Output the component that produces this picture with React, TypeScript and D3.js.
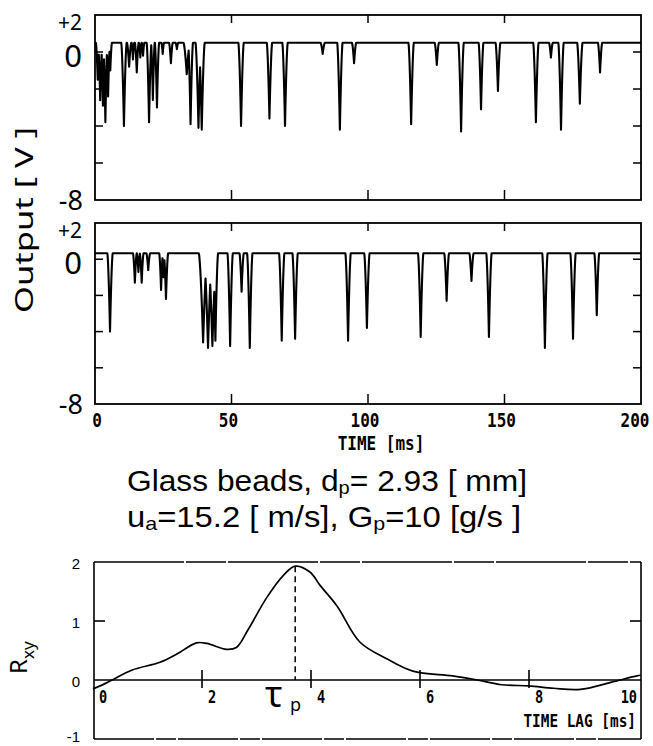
import React from 'react';
import * as d3 from 'd3';

const width = 653;
const height = 746;

// upper trace: [time ms, min value V, half width ms]
const topSpikes: number[][] = [
  [1.0, -1.5, 0.7], [1.9, -2.6, 0.8], [2.9, -2.9, 0.7], [3.8, -3.8, 0.8], [4.8, -2.4, 0.7], [5.6, -1.0, 0.6],
  [10.6, -4.0, 1.0],
  [12.5, -0.8, 0.8], [13.9, -0.4, 0.5], [15.3, -1.1, 0.7], [16.6, -0.3, 0.5], [17.6, -0.2, 0.5],
  [19.8, -3.8, 0.9], [21.2, -2.6, 0.7], [22.7, -3.0, 0.8],
  [24.8, -0.1, 0.5], [27.8, -0.6, 0.7], [30.0, 0.15, 0.5],
  [33.6, -1.2, 1.2], [35.0, -3.9, 0.9],
  [37.9, -4.1, 1.1], [39.1, -4.2, 1.1],
  [53.5, -4.0, 1.0], [63.9, -3.6, 1.0], [69.6, -4.0, 1.0], [83.4, -0.1, 0.8], [89.7, -4.2, 1.0],
  [94.9, -0.6, 0.8], [115.8, -3.9, 1.0], [125.2, -0.7, 0.8], [134.1, -4.3, 1.0], [141.4, -3.1, 0.9],
  [147.6, -2.1, 0.9], [161.5, -3.8, 1.0], [167.0, -0.3, 0.7], [170.7, -4.2, 1.0], [177.6, -2.8, 1.0],
  [185.0, -1.1, 0.8],
];
const topBase = 0.5;

// lower trace
const midSpikes: number[][] = [
  [5.5, -4.0, 1.0],
  [14.6, -1.3, 0.7], [15.9, -0.7, 0.6], [17.1, -1.3, 0.7], [19.5, -0.6, 0.7],
  [24.2, -1.7, 0.7], [25.1, -1.0, 0.6], [26.0, -2.2, 0.8],
  [39.6, -4.6, 1.6], [41.4, -4.9, 1.6], [43.0, -4.8, 1.6], [44.1, -4.5, 1.0],
  [49.5, -4.8, 1.0], [53.7, -1.8, 0.8], [56.7, -4.9, 1.0], [68.4, -4.5, 1.0], [73.3, -4.4, 1.0],
  [92.7, -4.5, 1.0], [99.6, -3.8, 1.0], [119.3, -4.3, 1.0], [128.8, -2.3, 0.9], [137.9, -1.2, 0.8],
  [144.3, -4.3, 1.0], [164.8, -4.9, 1.0], [175.1, -4.4, 1.0], [183.8, -3.1, 0.9],
];
const midBase = 0.33;

const timeTicks = [0, 50, 100, 150, 200];
const voltTicks = [0, -2, -4, -6];

// cross-correlation
const lag = [0, 0.2, 0.35, 0.72, 1.23, 1.54, 1.9, 2.09, 2.45, 2.63, 2.85, 3.19, 3.49, 3.71, 3.98, 4.17, 4.48, 4.9, 5.39, 5.87, 6.6, 7.05, 7.5, 8.0, 8.45, 8.94, 9.5, 9.98, 10.05];
const rxy = [-0.15, -0.07, 0, 0.17, 0.3, 0.44, 0.63, 0.62, 0.52, 0.55, 0.86, 1.4, 1.77, 1.93, 1.83, 1.6, 1.25, 0.64, 0.36, 0.15, 0.07, 0, -0.08, -0.1, -0.14, -0.16, -0.04, 0.07, 0.08];
const lagTicks = [0, 2, 4, 6, 8, 10];
const rTicks = [2, 1, 0, -1];

const x = d3.scaleLinear().domain([0, 200]).range([95, 641]);
const yTop = d3.scaleLinear().domain([-8, 2]).range([200, 15]);
const yMid = d3.scaleLinear().domain([-8, 2]).range([404, 223]);
const xl = d3.scaleLinear().domain([0, 10]).range([93, 638]);
const yr = d3.scaleLinear().domain([-1, 2]).range([739, 562]);

function trace(spikes: number[][], base: number) {
  const ts = d3.range(0, 200.001, 0.05).concat(spikes.map(s => s[0])).sort((a, b) => a - b);
  return ts.map(t => {
    let v = base;
    for (const [t0, d, w] of spikes) {
      const dt = Math.abs(t - t0);
      if (dt < w) v = Math.min(v, base + (d - base) * Math.pow(1 - dt / w, 1.6));
    }
    return [t, v] as [number, number];
  });
}

const sans = 'Noto Sans, DejaVu Sans, sans-serif';
const lib = 'Liberation Sans, Arial, sans-serif';
const mono = 'DejaVu Sans Mono, monospace';

function Cond({ x, y, anchor = 'start', size = 20, children }: any) {
  return (
    <text transform={`translate(${x},${y}) scale(0.8,1)`} textAnchor={anchor}
      fontFamily={mono} fontWeight="bold" fontSize={size}>{children}</text>
  );
}

function Panel({ y, spikes, base, showX }: any) {
  const [y0, y1] = y.range();
  const line = d3.line<[number, number]>().x(d => x(d[0])).y(d => y(d[1]));
  return (
    <g>
      <rect x={x(0)} y={y1} width={x(200) - x(0)} height={y0 - y1} fill="none" stroke="#000" strokeWidth={1.8} />
      {timeTicks.slice(1, -1).map(t => (
        <g key={t} stroke="#000" strokeWidth={1.5}>
          <line x1={x(t)} x2={x(t)} y1={y1} y2={y1 + 8} />
          <line x1={x(t)} x2={x(t)} y1={y0} y2={y0 - 10} />
        </g>
      ))}
      {voltTicks.map(v => (
        <g key={v} stroke="#000" strokeWidth={1.5}>
          <line x1={x(0)} x2={x(0) + 8} y1={y(v)} y2={y(v)} />
          <line x1={x(200)} x2={x(200) - 8} y1={y(v)} y2={y(v)} />
        </g>
      ))}
      <path d={line(trace(spikes, base)) || ''} fill="none" stroke="#000" strokeWidth={2.1} strokeLinejoin="round" />
      <text x={82} y={y(2) + 15} textAnchor="end" fontFamily={sans} fontSize={21}>+2</text>
      <text x={82} y={y(0) + 15} textAnchor="end" fontFamily={sans} fontSize={31}>0</text>
      <text x={83} y={y(-8) + 10} textAnchor="end" fontFamily={sans} fontSize={27}>-8</text>
      {showX && timeTicks.map((t, i) => (
        <Cond key={t} x={x(t) + (i === 0 ? 2 : i === timeTicks.length - 1 ? -6 : -3)} y={427} anchor="middle">{t}</Cond>
      ))}
    </g>
  );
}

export default function App() {
  const rLine = d3.line<number>().x((d, i) => xl(lag[i])).y(d => yr(d)).curve(d3.curveCatmullRom);
  const peakIdx = d3.maxIndex(rxy);
  return (
    <svg width={width} height={height} style={{ position: 'absolute', left: 0, top: 0, background: '#fff' }}>
      <rect width={width} height={height} fill="#fff" />
      <Panel y={yTop} spikes={topSpikes} base={topBase} showX={false} />
      <Panel y={yMid} spikes={midSpikes} base={midBase} showX={true} />
      <text transform="translate(33,220) rotate(-90)" textAnchor="middle" fontFamily={sans} fontSize={25}
        textLength={186} lengthAdjust="spacingAndGlyphs">Output [ V ]</text>
      <Cond x={381} y={450} anchor="middle">TIME [ms]</Cond>

      <text x={127} y={491} fontFamily={lib} fontSize={30} textLength={400} lengthAdjust="spacingAndGlyphs">
        Glass beads, d<tspan fontSize={19} dy={3}>p</tspan><tspan dy={-3}>= 2.93 [ mm]</tspan>
      </text>
      <text x={127} y={527} fontFamily={lib} fontSize={29} textLength={394} lengthAdjust="spacingAndGlyphs">
        u<tspan fontSize={19} dy={3}>a</tspan><tspan dy={-3}>=15.2 [ m/s], G</tspan><tspan fontSize={19} dy={3}>p</tspan><tspan dy={-3}>=10 [g/s ]</tspan>
      </text>

      {/* correlation panel */}
      <g stroke="#000" strokeWidth={1.6} fill="none">
        <line x1={xl(0) + 1} x2={xl(0) + 1} y1={yr(2)} y2={yr(-1)} />
        <line x1={641} x2={641} y1={yr(2)} y2={yr(-1)} />
        <line x1={xl(0) + 1} x2={641} y1={yr(2)} y2={yr(2)} strokeDasharray="90 2 40 2" />
        <line x1={xl(0) + 1} x2={641} y1={yr(-1)} y2={yr(-1)} strokeDasharray="60 2 20 2" />
        <line x1={xl(0) + 1} x2={641} y1={yr(0)} y2={yr(0)} />
        <line x1={xl(0) + 1} x2={xl(0) + 12} y1={yr(1)} y2={yr(1)} />
        <line x1={641} x2={630} y1={yr(1)} y2={yr(1)} />
        {lagTicks.slice(1, -1).map(t => (
          <line key={t} x1={xl(t)} x2={xl(t)} y1={yr(0) - 10} y2={yr(0) + 8} />
        ))}
      </g>
      <line x1={xl(lag[peakIdx])} x2={xl(lag[peakIdx])} y1={yr(rxy[peakIdx])} y2={yr(0)}
        stroke="#000" strokeWidth={1.5} strokeDasharray="6 4" />
      <path d={rLine(rxy) || ''} fill="none" stroke="#000" strokeWidth={1.7} />
      {rTicks.map(v => (
        <text key={v} x={80} y={Math.min(yr(v) + 7, 742)} textAnchor="end" fontFamily={lib} fontSize={15}>{v}</text>
      ))}
      {lagTicks.map((t, i) => i < lagTicks.length - 1
        ? <Cond key={t} x={xl(t) + 6} y={703} size={17}>{t}</Cond>
        : <Cond key={t} x={xl(t) - 1} y={703} size={17} anchor="end">{t}</Cond>
      )}
      <Cond x={636} y={727} size={18} anchor="end">TIME LAG [ms]</Cond>
      <text x={265} y={707} fontFamily={sans} fontSize={36}>τ</text>
      <text x={290} y={711} fontFamily={sans} fontSize={18}>p</text>
      <text transform="translate(27,674) rotate(-90)" fontFamily={sans} fontSize={24}>
        R<tspan fontSize={17} dy={7}>xy</tspan>
      </text>
    </svg>
  );
}
